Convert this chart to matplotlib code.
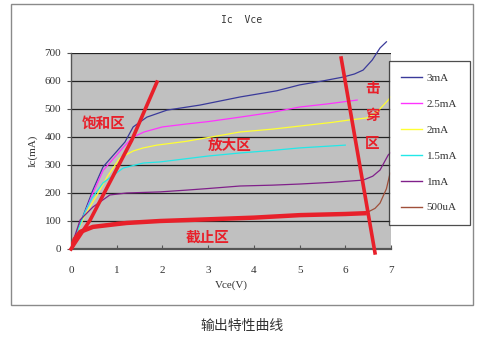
import matplotlib
matplotlib.use("Agg")
import matplotlib.pyplot as plt
from matplotlib.patches import Rectangle
from matplotlib.lines import Line2D

plt.rcParams['font.family'] = ['Liberation Serif', 'Noto Sans CJK SC', 'DejaVu Sans']

# Data (Vce in V, Ic in mA)
x_3mA = [0, 0.09, 0.48, 0.7, 1.18, 1.36, 1.66, 2.1, 2.38, 2.82, 3.7, 4.5, 5.0, 5.5, 5.95, 6.2, 6.39, 6.59, 6.76, 6.9]
y_3mA = [0, 43, 211, 293, 382, 436, 471, 496, 503, 514, 543, 565, 586, 600, 614, 625, 639, 675, 718, 740]
x_25mA = [0, 0.09, 0.48, 0.7, 1.18, 1.36, 1.6, 2.0, 2.5, 3.0, 3.7, 4.4, 5.0, 5.6, 6.26]
y_25mA = [0, 40, 200, 280, 370, 400, 418, 436, 446, 455, 471, 488, 507, 518, 532]
x_2mA = [0, 0.1, 0.3, 0.57, 0.8, 1.07, 1.36, 1.58, 1.88, 2.5, 3.0, 3.7, 4.4, 5.0, 5.7, 6.1, 6.47, 6.7, 6.94, 7.0]
y_2mA = [0, 45, 120, 193, 260, 325, 350, 361, 371, 384, 398, 418, 428, 439, 452, 461, 468, 490, 532, 545]
x_15mA = [0, 0.1, 0.3, 0.46, 0.7, 1.14, 1.58, 1.95, 2.5, 3.0, 3.7, 4.4, 5.0, 5.5, 6.0]
y_15mA = [0, 45, 130, 182, 236, 289, 307, 311, 322, 332, 343, 352, 361, 366, 371]
x_1mA = [0, 0.05, 0.2, 0.48, 0.85, 1.22, 1.95, 2.5, 3.0, 3.7, 4.4, 5.0, 5.7, 6.39, 6.6, 6.76, 6.94, 7.0]
y_1mA = [0, 30, 104, 150, 193, 200, 204, 210, 216, 225, 228, 232, 238, 246, 260, 282, 336, 345]
x_500uA = [0, 0.05, 0.2, 0.5, 1.0, 2.0, 3.0, 4.0, 5.0, 6.0, 6.47, 6.65, 6.76, 6.9, 6.98]
y_500uA = [0, 30, 61, 80, 95, 103, 108, 113, 120, 126, 130, 145, 164, 215, 271]

series = [
    ("3mA", x_3mA, y_3mA, "#3a3a9a"),
    ("2.5mA", x_25mA, y_25mA, "#ff33ff"),
    ("2mA", x_2mA, y_2mA, "#ffff33"),
    ("1.5mA", x_15mA, y_15mA, "#22e8e8"),
    ("1mA", x_1mA, y_1mA, "#80208a"),
    ("500uA", x_500uA, y_500uA, "#a0503a"),
]

# Red hand-drawn annotation lines
sat_x = [0.0, 0.42, 1.33, 1.88]
sat_y = [0, 104, 389, 596]
brk_x = [5.91, 6.65]
brk_y = [682, -14]
cut_x = [0, 0.08, 0.2, 0.48, 1.0, 1.22, 1.95, 3.0, 4.0, 5.01, 6.0, 6.47]
cut_y = [0, 35, 61, 79, 89, 93, 100, 106, 112, 121, 125, 128]

xticks = [0, 1, 2, 3, 4, 5, 6, 7]
yticks = [0, 100, 200, 300, 400, 500, 600, 700]

fig = plt.figure(figsize=(4.8, 3.39), dpi=100)
fig.patch.set_facecolor("white")

# outer border
fig.patches.append(Rectangle((11/480, 1-305/339), (473-11)/480, (305-4)/339,
                             transform=fig.transFigure, fill=False,
                             edgecolor="#8a8a8a", linewidth=1.0))

ax = fig.add_axes([71/480, 1-249/339, (391-71)/480, (249-53)/339])
ax.set_facecolor("#c0c0c0")
ax.set_xlim(0, 7)
ax.set_ylim(0, 700)
for yv in yticks[1:]:
    ax.axhline(yv, color="#222222", lw=0.9, zorder=1)

for name, xs, ys, c in series:
    ax.plot(xs, ys, color=c, lw=0.9, zorder=3, clip_on=(name != "3mA"))

red = "#e8202a"
ax.plot(cut_x, cut_y, color=red, lw=3.2, zorder=4, solid_capstyle="butt")
ax.plot(sat_x, sat_y, color=red, lw=2.6, zorder=4, clip_on=False)
ax.plot(brk_x, brk_y, color=red, lw=2.6, zorder=4, clip_on=False)

tkw = dict(color=red, fontsize=10.5, fontweight="bold", family=["Noto Sans CJK SC"], zorder=5,
           ha="center", va="center")
ax.text(0.72, 452, "饱和区", **tkw)
ax.text(3.48, 371, "放大区", **tkw)
ax.text(2.98, 43, "截止区", **tkw)
ax.text(6.59, 575, "击", **tkw)
ax.text(6.59, 477, "穿", **tkw)
ax.text(6.59, 378, "区", **tkw)

for s in ["top", "right"]:
    ax.spines[s].set_visible(False)
ax.spines["left"].set_color("#555555")
ax.spines["bottom"].set_color("#555555")
ax.spines["bottom"].set_linewidth(1.6)
ax.spines["left"].set_linewidth(1.0)
ax.set_xticks(xticks)
ax.set_yticks(yticks)
ax.tick_params(axis="x", direction="in", length=3, width=0.8, color="#555555",
               labelsize=8, pad=12, labelcolor="#333333")
ax.tick_params(axis="y", direction="out", length=3, width=0.8, color="#555555",
               labelsize=8, pad=4, labelcolor="#333333")
ax.set_xlabel("Vce(V)", fontsize=8, color="#333333", labelpad=4)
ax.set_ylabel("Ic(mA)", fontsize=8, color="#333333", labelpad=5)

fig.text(242/480, 1-20/339, "Ic  Vce", ha="center", va="center", fontsize=7,
         family=["DejaVu Sans Mono"], color="#333333")

# legend
handles = [Line2D([0], [0], color=c, lw=1.0) for _, _, _, c in series]
labels = [n for n, _, _, _ in series]
leg = fig.legend(handles, labels, loc="upper left",
                 bbox_to_anchor=(389/480, 1-61/339), frameon=True,
                 fontsize=8, handlelength=1.9, handletextpad=0.4,
                 labelspacing=1.45, borderpad=1.1, borderaxespad=0.0,
                 fancybox=False, edgecolor="#222222")
leg.get_frame().set_linewidth(0.9)
for t in leg.get_texts():
    t.set_color("#333333")

fig.text(242/480, 1-326/339, "输出特性曲线", ha="center", va="center", fontsize=10,
         family=["Noto Sans CJK SC"], color="#333333")

fig.savefig("out.png", dpi=100)
